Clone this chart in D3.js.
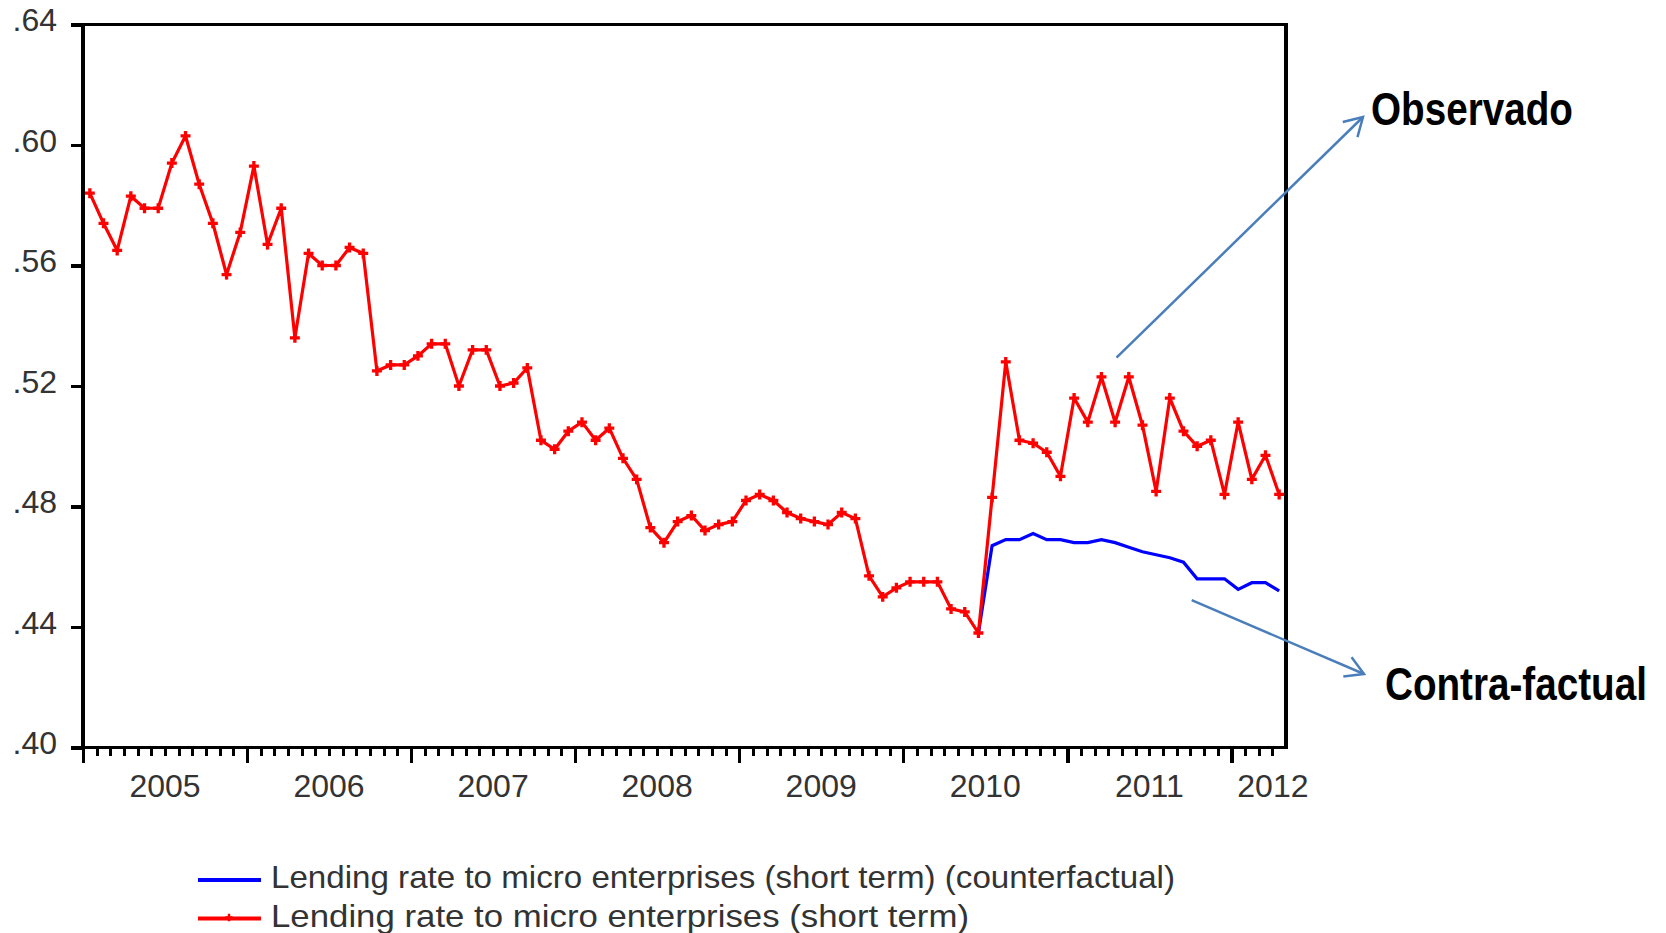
<!DOCTYPE html>
<html>
<head>
<meta charset="utf-8">
<title>Lending rate to micro enterprises</title>
<style>
  body { margin: 0; background: #fff; }
  .axis text { font-family: "Liberation Sans", Arial, sans-serif; font-size: 32px; fill: #333; }
  .axis line { stroke: #000; }
  .legend text { font-family: "Liberation Sans", Arial, sans-serif; font-size: 32px; fill: #333; }
  .note { font-family: "Liberation Sans", Arial, sans-serif; font-weight: bold; font-size: 47px; fill: #000; }
</style>
</head>
<body>
<div class="container"></div>
<script src="https://cdn.jsdelivr.net/npm/d3@7/dist/d3.min.js"></script>
<script>

// monthly series, 2005M01 .. 2012M04
var startYear = 2005;

var observed = [
  0.584, 0.574, 0.565, 0.583, 0.579, 0.579, 0.594, 0.603, 0.587, 0.574, 0.557, 0.571,
  0.593, 0.567, 0.579, 0.536, 0.564, 0.560, 0.560, 0.566, 0.564, 0.525, 0.527, 0.527,
  0.530, 0.534, 0.534, 0.520, 0.532, 0.532, 0.520, 0.521, 0.526, 0.502, 0.499, 0.505,
  0.508, 0.502, 0.506, 0.496, 0.489, 0.473, 0.468, 0.475, 0.477, 0.472, 0.474, 0.475,
  0.482, 0.484, 0.482, 0.478, 0.476, 0.475, 0.474, 0.478, 0.476, 0.457, 0.450, 0.453,
  0.455, 0.455, 0.455, 0.446, 0.445, 0.438, 0.483, 0.528, 0.502, 0.501, 0.498, 0.490,
  0.516, 0.508, 0.523, 0.508, 0.523, 0.507, 0.485, 0.516, 0.505, 0.500, 0.502, 0.484,
  0.508, 0.489, 0.497, 0.484
];

// counterfactual starts at 2010M06 (month index 65)
var cfStart = 65;
var counterfactual = [
  0.438, 0.467, 0.469, 0.469, 0.471, 0.469, 0.469, 0.468, 0.468, 0.469, 0.468, 0.4665,
  0.465, 0.464, 0.463, 0.4615, 0.456, 0.456, 0.456, 0.4525, 0.4547, 0.4547, 0.452
];

var yTicks = [0.40, 0.44, 0.48, 0.52, 0.56, 0.60, 0.64];
var yearLabels = ["2005", "2006", "2007", "2008", "2009", "2010", "2011", "2012"];
var legendLabels = [
  "Lending rate to micro enterprises (short term) (counterfactual)",
  "Lending rate to micro enterprises (short term)"
];
var noteLabels = ["Observado", "Contra-factual"];

var svgWidth = 1666, svgHeight = 933;
var margin = {top: 24.5, left: 83};
var width = 1203;
var height = 723;

var svg = d3.select('.container')
  .append('svg')
  .attr('width', svgWidth)
  .attr('height', svgHeight);

var nMonths = observed.length;

var x = d3.scaleLinear().domain([0, nMonths]).range([0, width]);
var y = d3.scaleLinear().domain([0.40, 0.64]).range([height, 0]);

var g = svg.append('g').attr('transform', `translate(${margin.left},${margin.top})`);

// y axis
var yAxis = d3.axisLeft(y)
  .tickValues(yTicks)
  .tickSize(12)
  .tickPadding(14)
  .tickFormat(d => d3.format('.2f')(d).replace(/^0/, ''));

g.append('g')
  .attr('class', 'axis')
  .call(yAxis)
  .call(s => s.select('.domain').remove())
  .call(s => s.selectAll('line').attr('stroke-width', 3.5).attr('shape-rendering', 'crispEdges'))
  .call(s => s.selectAll('text').attr('dy', '0.2em'));

// x axis: minor month ticks and major year ticks
var monthIdx = d3.range(0, nMonths);
var xMinor = d3.axisBottom(x)
  .tickValues(monthIdx.filter(i => i % 12 !== 0))
  .tickSize(8)
  .tickFormat('');
var xMajor = d3.axisBottom(x)
  .tickValues(monthIdx.filter(i => i % 12 === 0))
  .tickSize(15)
  .tickFormat('');

g.append('g')
  .attr('class', 'axis')
  .attr('transform', `translate(0,${height})`)
  .call(xMinor)
  .call(s => s.select('.domain').remove())
  .call(s => s.selectAll('line').attr('stroke-width', 3).attr('shape-rendering', 'crispEdges'));

g.append('g')
  .attr('class', 'axis')
  .attr('transform', `translate(0,${height})`)
  .call(xMajor)
  .call(s => s.select('.domain').remove())
  .call(s => s.selectAll('line').attr('stroke-width', 3.5).attr('shape-rendering', 'crispEdges'));

g.append('g')
  .attr('class', 'axis')
  .selectAll('text')
  .data(yearLabels)
  .enter().append('text')
  .attr('x', function(d, i) {
    var m = i * 12;
    if (m + 12 > nMonths) return x(m) + 6;   // last, partial year
    return x(m + 6);
  })
  .attr('y', height + 49)
  .attr('text-anchor', (d, i) => i * 12 + 12 > nMonths ? 'start' : 'middle')
  .text(d => d);

// frame
g.append('rect')
  .attr('x', 0).attr('y', 0)
  .attr('width', width).attr('height', height)
  .attr('fill', 'none')
  .attr('stroke', '#000')
  .attr('stroke-width', 3.5)
  .attr('shape-rendering', 'crispEdges');

var line = d3.line()
  .x(d => x(d[0] + 0.5))
  .y(d => y(d[1]));

var obsPts = observed.map((v, i) => [i, v]);
var cfPts = counterfactual.map((v, i) => [cfStart + i, v]);

g.append('path')
  .attr('d', line(cfPts))
  .attr('fill', 'none')
  .attr('stroke', '#0000ff')
  .attr('stroke-width', 3.2);

g.append('path')
  .attr('d', line(obsPts))
  .attr('fill', 'none')
  .attr('stroke', '#ff0000')
  .attr('stroke-width', 3.2);

g.append('g')
  .selectAll('path')
  .data(obsPts)
  .enter().append('path')
  .attr('d', d3.symbol(d3.symbolCross, 55))
  .attr('transform', d => `translate(${x(d[0] + 0.5)},${y(d[1])})`)
  .attr('fill', '#ff0000');

// legend
var legendColors = ['#0000ff', '#ff0000'];
var legendY = [880, 918.5];
var legendLen = [904, 698];
var legend = svg.append('g').attr('class', 'legend');

legend.selectAll('line')
  .data(legendLabels)
  .enter().append('line')
  .attr('x1', 198).attr('x2', 261)
  .attr('y1', (d, i) => legendY[i]).attr('y2', (d, i) => legendY[i])
  .attr('stroke', (d, i) => legendColors[i])
  .attr('stroke-width', 4);

legend.append('path')
  .attr('d', d3.symbol(d3.symbolCross, 30))
  .attr('transform', `translate(229,${legendY[1] - 1})`)
  .attr('fill', '#ff0000');

legend.selectAll('text')
  .data(legendLabels)
  .enter().append('text')
  .attr('x', 271)
  .attr('y', (d, i) => legendY[i] + 8)
  .attr('textLength', (d, i) => legendLen[i])
  .attr('lengthAdjust', 'spacingAndGlyphs')
  .text(d => d);

// annotations
var defs = svg.append('defs');
defs.append('marker')
  .attr('id', 'head')
  .attr('viewBox', '-22 -14 26 28')
  .attr('refX', 0).attr('refY', 0)
  .attr('markerWidth', 26).attr('markerHeight', 28)
  .attr('markerUnits', 'userSpaceOnUse')
  .attr('orient', 'auto')
  .append('path')
  .attr('d', 'M-18,-10.5L0,0L-18,10.5')
  .attr('fill', 'none')
  .attr('stroke', '#4a7ebb')
  .attr('stroke-width', 2.5);

var arrows = [
  {from: [75.6, 0.5294], to: [1363, 117], tx: 1371, ty: 125, len: 202},
  {from: [81.1, 0.4489], to: [1364, 674], tx: 1385, ty: 700, len: 262}
];

svg.selectAll('.arrow')
  .data(arrows)
  .enter().append('line')
  .attr('class', 'arrow')
  .attr('x1', d => margin.left + x(d.from[0]))
  .attr('y1', d => margin.top + y(d.from[1]))
  .attr('x2', d => d.to[0])
  .attr('y2', d => d.to[1])
  .attr('stroke', '#4a7ebb')
  .attr('stroke-width', 2.5)
  .attr('marker-end', 'url(#head)');

// narrow bold labels: squeeze the natural width down to the target width
svg.selectAll('.noteGroup')
  .data(arrows)
  .enter().append('g')
  .attr('class', 'noteGroup')
  .each(function(d, i) {
    var grp = d3.select(this);
    var t = grp.append('text')
      .attr('class', 'note')
      .attr('x', 0).attr('y', 0)
      .text(noteLabels[i]);
    var natural = t.node().getComputedTextLength();
    grp.attr('transform', `translate(${d.tx},${d.ty}) scale(${d.len / natural},1)`);
  });

</script>
</body>
</html>
